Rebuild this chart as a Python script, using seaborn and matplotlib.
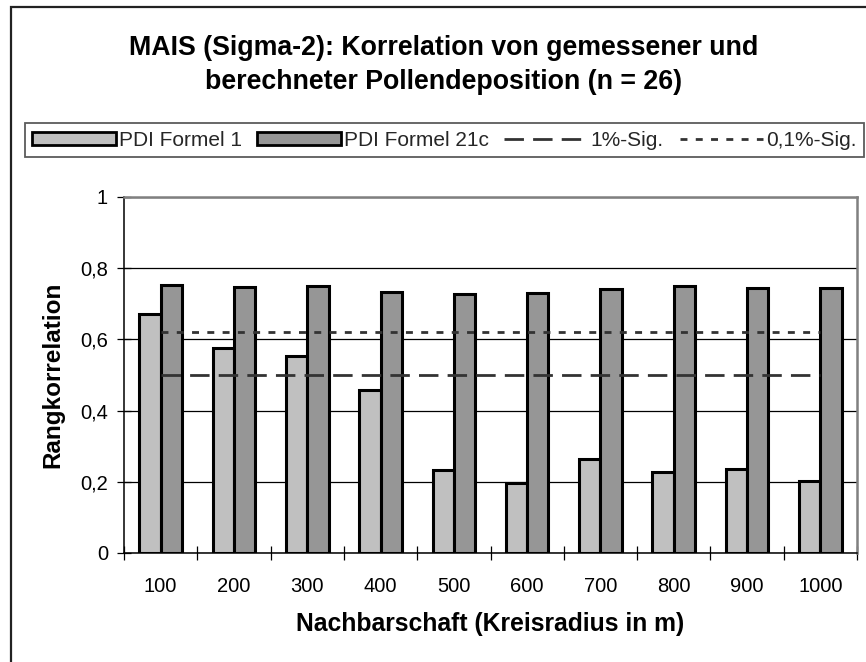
import numpy as np
import pandas as pd
import matplotlib
matplotlib.use("Agg")
import matplotlib.pyplot as plt
from matplotlib.patches import Patch, Rectangle
from matplotlib.lines import Line2D
from matplotlib.ticker import FixedLocator, FuncFormatter
import seaborn as sns

# Neighbourhood radius (m) and rank correlations of both PDI formulas
radii = ["100", "200", "300", "400", "500", "600", "700", "800", "900", "1000"]
pdi_formel_1 = [0.671, 0.575, 0.554, 0.459, 0.233, 0.196, 0.264, 0.228, 0.235, 0.202]
pdi_formel_21c = [0.753, 0.746, 0.750, 0.732, 0.728, 0.730, 0.742, 0.751, 0.744, 0.745]
# Significance thresholds for n = 26
sig_1pct = [0.50] * len(radii)
sig_01pct = [0.62] * len(radii)

series_names = ["PDI Formel 1", "PDI Formel 21c"]
light, dark = "#C0C0C0", "#969696"
line_col = "#333333"

df = pd.DataFrame({
    "radius": radii * 2,
    "value": pdi_formel_1 + pdi_formel_21c,
    "series": [series_names[0]] * len(radii) + [series_names[1]] * len(radii),
})

sns.set_theme(style="white")
plt.rcParams["font.family"] = ["Liberation Sans", "DejaVu Sans"]

fig = plt.figure(figsize=(8.66, 6.62), dpi=100)
ax = fig.add_axes([124 / 866, 1 - 553 / 662, (857 - 124) / 866, (553 - 197) / 662])

sns.barplot(data=df, x="radius", y="value", hue="series", order=radii,
            hue_order=series_names, palette=[light, dark], width=0.58,
            edgecolor="black", linewidth=2.2, saturation=1, legend=False, ax=ax)

xpos = np.arange(len(radii))
ax.plot(xpos, sig_1pct, color=line_col, lw=2.0, dashes=(7, 3.3), zorder=3)
ax.plot(xpos, sig_01pct, color=line_col, lw=2.0, dashes=(2.5, 3.0), zorder=3)

ax.set_xlim(-0.5, len(radii) - 0.5)
ax.set_ylim(0, 1)
ax.yaxis.set_major_locator(FixedLocator([0, 0.2, 0.4, 0.6, 0.8, 1.0]))
ax.yaxis.set_major_formatter(FuncFormatter(
    lambda v, p: "0" if v == 0 else ("1" if abs(v - 1) < 1e-9 else f"{v:.1f}".replace(".", ","))))
ax.grid(axis="y", color="black", lw=0.9)
ax.grid(axis="x", visible=False)
ax.set_axisbelow(True)

ax.xaxis.set_minor_locator(FixedLocator(np.arange(-0.5, len(radii), 1.0)))
ax.tick_params(axis="x", which="major", length=0, pad=17, labelsize=14.5, colors="black")
ax.tick_params(axis="x", which="minor", bottom=True, direction="inout", length=10,
               width=0.9, color="black")
ax.tick_params(axis="y", which="major", left=True, direction="inout", length=10,
               width=0.9, color="black", pad=6.5, labelsize=14.5, labelcolor="black")

for side in ["left", "bottom"]:
    ax.spines[side].set_color("black")
    ax.spines[side].set_linewidth(1.1)
for side in ["top", "right"]:
    ax.spines[side].set_color("#808080")
    ax.spines[side].set_linewidth(1.8)

ax.set_xlabel("Nachbarschaft (Kreisradius in m)", fontsize=17.8, fontweight="bold",
              labelpad=11.5, color="black")
ax.set_ylabel("Rangkorrelation", fontsize=17.5, fontweight="bold",
              labelpad=11.5, color="black")

fig.text(444 / 866, 1 - 35 / 662,
         "MAIS (Sigma-2): Korrelation von gemessener und\nberechneter Pollendeposition (n = 26)",
         ha="center", va="top", fontsize=19.3, fontweight="bold", linespacing=1.42,
         color="black")

handles = [
    Patch(facecolor=light, edgecolor="black", lw=2),
    Patch(facecolor=dark, edgecolor="black", lw=2),
    Line2D([], [], color=line_col, lw=2.0, dashes=(7, 3.3)),
    Line2D([], [], color=line_col, lw=2.0, dashes=(2.5, 3.0)),
]
labels = series_names + ["1%-Sig.", "0,1%-Sig."]
leg = fig.legend(handles, labels, loc="lower left", bbox_to_anchor=(25 / 866, 1 - 157 / 662),
                 ncol=4, fontsize=15, frameon=True, fancybox=False, shadow=False,
                 handlelength=4.0, handleheight=0.55, handletextpad=0.15,
                 columnspacing=0.75, borderpad=0.35, borderaxespad=0)
leg.get_frame().set_edgecolor("#333333")
leg.get_frame().set_linewidth(1.3)

# outer chart frame
fig.patches.append(Rectangle((11 / 866, -0.1), 1.2, 1 - 7 / 662 + 0.1, transform=fig.transFigure,
                             fill=False, edgecolor="#222222", lw=1.6))

fig.savefig("out.png", dpi=100)
